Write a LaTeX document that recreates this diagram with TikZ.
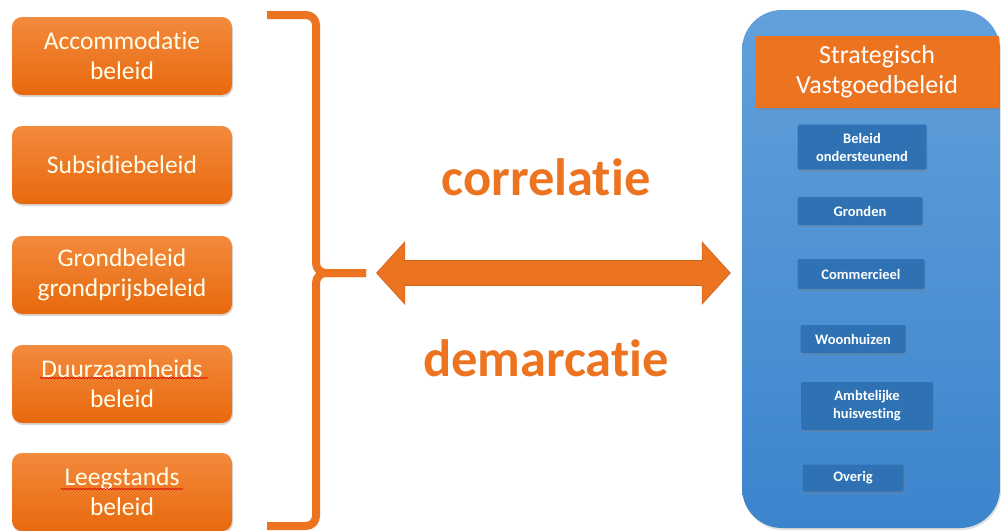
\documentclass[tikz,border=0pt]{standalone}
\usepackage{fontspec}
\setmainfont{Carlito}[Ligatures={NoCommon}]
\usepackage{xcolor}
\usepackage{tikz}
\usetikzlibrary{positioning, shadows}
\usetikzlibrary{arrows.meta, decorations.pathmorphing}
\definecolor{orangetop}{HTML}{F28A3C}
\definecolor{orangebot}{HTML}{E8690E}
\definecolor{vborange}{HTML}{EC7421}
\definecolor{paneltop}{HTML}{62A0DA}
\definecolor{panelbot}{HTML}{3B85CD}
\definecolor{itemblue}{HTML}{2E72B3}

\begin{document}
\begin{tikzpicture}[x=1pt, y=-1pt]
\useasboundingbox (0,0) rectangle (1001,530);
% Define styles
\tikzstyle{beleid} = [rounded corners=10pt, top color=orangetop, bottom color=orangebot, draw=none, text=white!92!yellow, align=center, minimum width=220pt, minimum height=78pt, inner sep=0pt, font=\fontsize{25.5}{30}\selectfont, drop shadow={shadow xshift=1pt, shadow yshift=-2pt, opacity=0.3}]
\tikzstyle{item} = [rounded corners=1.5pt, fill=itemblue, text=white, align=center, inner sep=0pt, font=\fontsize{14.5}{18}\selectfont\bfseries, drop shadow={shadow xshift=1pt, shadow yshift=-2pt, opacity=0.35}]
\tikzstyle{kop} = [fill=vborange, text=white, align=center, minimum width=243pt, minimum height=72pt, inner sep=0pt, font=\fontsize{26}{30}\selectfont, drop shadow={shadow xshift=1pt, shadow yshift=-2pt, opacity=0.35}]
\tikzstyle{woord} = [text=vborange, anchor=base, inner sep=0pt, font=\fontsize{52.5}{52.5}\selectfont\bfseries]
\tikzstyle{spelling} = [draw=red!85!black, line width=0.6pt, decorate, decoration={snake, segment length=3pt, amplitude=0.7pt}]
% Define nodes
\node[beleid] (accom) at (122,56) {Accommodatie\\beleid};
\node[beleid] (subsidie) at (122,165) {Subsidiebeleid};
\node[beleid] (grond) at (122,275) {Grondbeleid\\grondprijsbeleid};
\node[beleid] (duurzaam) at (122,384) {Duurzaamheids\\beleid};
\node[beleid] (leegstand) at (122,492) {Leegstands\\beleid};
\node[woord] (corr) at (546,195) {correlatie};
\node[woord] (demarc) at (546,376) {demarcatie};
\node[rounded corners=40pt, top color=paneltop, bottom color=panelbot, minimum width=258pt, minimum height=518pt, drop shadow={shadow xshift=1pt, shadow yshift=-2pt, opacity=0.25}] (panel) at (871,269) {};
\node[kop] (svb) at (877,72) {Strategisch\\Vastgoedbeleid};
\node[item, minimum width=129pt, minimum height=45pt] (ondersteunend) at (862,147) {Beleid\\ondersteunend};
\node[item, minimum width=125pt, minimum height=28pt] (gronden) at (860,211) {Gronden};
\node[item, minimum width=127pt, minimum height=30pt] (commercieel) at (861,274) {Commercieel};
\node[item, minimum width=105pt, minimum height=28pt] (woonhuizen) at (853,339) {Woonhuizen};
\node[item, minimum width=132pt, minimum height=48pt] (ambtelijk) at (867,406) {Ambtelijke\\huisvesting};
\node[item, minimum width=101pt, minimum height=27pt] (overig) at (853,478) {Overig};
\coordinate (bracetop) at (267,15);
\coordinate (bracetip) at (366,273);
\coordinate (bracebot) at (267,526);
% Connect the nodes
\draw[vborange, line width=8pt, rounded corners=10pt] (bracetop) -- (316,15) -- (316,273) -- (bracetip);
\draw[vborange, line width=8pt, rounded corners=10pt] (bracetip) -- (316,273) -- (316,526) -- (bracebot);
\draw[vborange!85!black, line width=25.5pt, {Triangle[length=29pt, width=62pt]}-{Triangle[length=29pt, width=62pt]}, shorten <=10pt, shorten >=11pt] (bracetip) -- (panel.west |- bracetip);
\draw[vborange, line width=24pt, {Triangle[length=27.5pt, width=59pt]}-{Triangle[length=27.5pt, width=59pt]}, shorten <=11pt, shorten >=12pt] (bracetip) -- (panel.west |- bracetip);
\draw[spelling] (40,378) -- (208,378);
\draw[spelling] (61,489) -- (183,489);
\end{tikzpicture}
\end{document}
